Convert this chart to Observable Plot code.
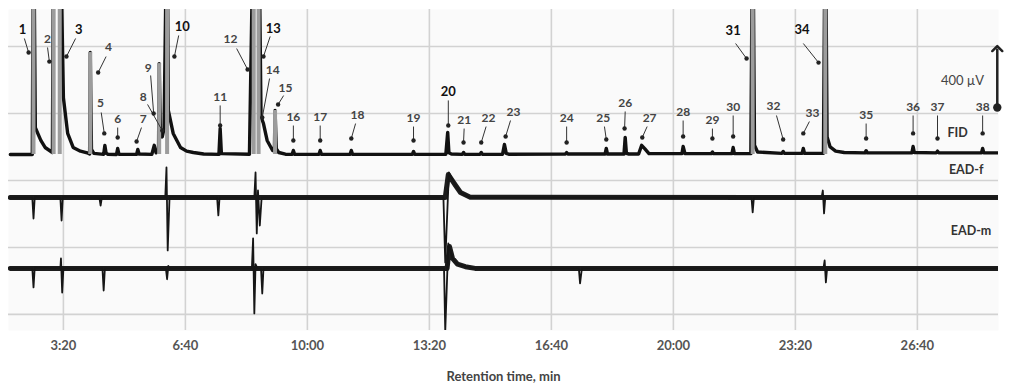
<!DOCTYPE html>
<html><head><meta charset="utf-8">
<script src="https://cdn.jsdelivr.net/npm/d3@7"></script>
<script src="https://cdn.jsdelivr.net/npm/@observablehq/plot@0.6"></script>
<style>body{margin:0;background:#fff;} svg{display:block}</style>
</head><body><div id="chart"></div>
<script>
// x: retention time in seconds; y: signal (µV-like display units, traces offset)
const tickTimes = [200, 400, 600, 800, 1000, 1200, 1400, 1600];
const gridLevels = [0, 400, 800, 1200, 1600];
const fidBase = 955;

const fidTrace = [[113,955],[149,955],[151,2500],[154,1116],[158,1081],[163,1039],[170,997],[182,967],
[184,2500],[194,2500],[200,1295],[207,1081],[216,997],[228,975],[239,965],
[243,958],[244,1564],[246,985],[250,962],
[266,956],[268,1009],[270,962],[273,956],
[287,955],[289,991],[291,957],
[320,956],[322,985],[324,958],
[345,956],[349,1010],[352,965],[356,985],[357,1498],[359,1100],[362,1060],[365,1110],[370,2500],[372,1218],[380,1081],[392,997],[402,975],[413,967],[430,958],
[455,956],[457,1110],[459,960],
[505,957],[512,2500],[520,2500],[524,1180],[528,1140],[534,1039],[543,979],[546,1000],[547,1218],[549,990],[553,967],[564,957],
[575,956],[577,979],[579,956],
[619,956],[621,979],[623,956],
[670,956],[672,979],[674,956],
[772,956],[774,973],[776,956],
[827,957],[830,1087],[832,965],[836,958],
[854,956],[856,967],[858,956],
[883,956],[885,967],[887,956],
[920,957],[923,1015],[926,962],[930,957],
[1023,958],[1025,967],[1027,958],
[1088,958],[1090,991],[1092,958],
[1119,958],[1121,1057],[1123,962],[1127,958],
[1143,958],[1148,1010],[1153,990],[1160,960],
[1214,960],[1216,1003],[1219,960],
[1262,960],[1264,970],[1266,960],
[1296,960],[1298,997],[1300,960],
[1327,960],[1330,2500],[1333,1010],[1338,970],
[1378,962],[1380,973],[1382,962],
[1411,962],[1413,991],[1415,962],
[1446,962],[1449,2500],[1452,1060],[1457,1000],[1466,975],[1480,967],
[1514,965],[1516,978],[1518,965],
[1591,965],[1593,1003],[1595,967],
[1631,965],[1633,975],[1635,965],
[1705,965],[1707,991],[1709,965],
[1733,965]];

const bigPeakTimes = [151, 184, 194, 244, 357, 370, 512, 520, 547, 1330, 1449];
const bigPeakTops  = [2500, 2500, 2500, 1564, 1498, 2500, 2500, 2500, 1218, 2500, 2500];

// EAD traces: noisy baseline band + sharp deflections
const eadFBand = [[113,698],[826,698],[831,835],[843,770],[851,728],[867,700],[1733,698]];
const eadF = [[113,698],[149,698],[151,573],[153,700],[195,698],[197,561],[199,700],[259,698],[261,650],[263,698],
[367,698],[369,878],[371,382],[374,700],[452,698],[454,591],[456,698],
[513,698],[515,848],[517,484],[519,740],[522,531],[525,698],
[823,698],[826,310],[832,848],[843,770],[851,728],[867,698],
[1328,698],[1330,609],[1332,698],[1443,698],[1445,740],[1447,603],[1449,698],[1733,698]];

const eadMBand = [[113,275],[829,275],[833,405],[838,334],[846,300],[859,285],[875,275],[1733,275]];
const eadM = [[113,275],[149,275],[151,161],[153,280],[195,275],[196,334],[198,131],[200,275],[264,275],[266,143],[268,275],
[368,275],[370,210],[372,290],[374,275],[509,275],[511,454],[513,6],[515,300],[518,275],[524,275],[526,125],[528,275],
[824,275],[826,-100],[831,424],[838,334],[846,300],[859,285],[875,275],
[1045,275],[1047,185],[1050,275],[1446,275],[1448,322],[1450,191],[1452,275],[1733,275]];

const peakLabels = ["1","2","3","4","5","6","7","8","9","10","11","12","13","14","15","16","17","18","19","20",
"21","22","23","24","25","26","27","28","29","30","31","32","33","34","35","36","37","38"];
const labelT = [133,174,225,274,261,289,331,331,339,395,457,474,544,543,564,577,621,682,774,831,857,897,938,1025,1085,1121,1161,1216,1264,1298,1298,1364,1428,1411,1516,1593,1633,1707];
const labelV = [1701,1642,1701,1594,1260,1164,1164,1295,1469,1719,1295,1642,1707,1457,1349,1176,1176,1188,1170,1331,1158,1170,1206,1170,1170,1260,1170,1206,1158,1236,1695,1242,1200,1701,1188,1236,1236,1236];
const stemT  = [136,174,220,270,262,289,328,338,343,389,457,484,539,538,561,577,621,679,774,831,857,893,933,1025,1087,1121,1157,1216,1264,1298,1302,1369,1423,1413,1516,1593,1633,1707];
const stemV  = [1648,1594,1648,1540,1206,1116,1116,1254,1427,1666,1248,1588,1660,1409,1307,1128,1128,1140,1122,1278,1110,1122,1158,1122,1122,1212,1122,1158,1110,1188,1618,1188,1152,1618,1140,1188,1188,1188];
const tipT   = [143,177,205,257,267,289,320,362,348,382,457,502,528,526,552,577,621,672,774,831,856,885,925,1025,1090,1120,1149,1216,1264,1298,1320,1380,1413,1438,1516,1593,1633,1707];
const tipV   = [1564,1510,1540,1445,1081,1057,1033,1098,1200,1540,1128,1463,1540,1176,1254,1039,1039,1051,1039,1128,1027,1027,1063,1027,1045,1110,1057,1063,1051,1063,1528,1045,1081,1504,1051,1081,1051,1081];
const boldPeaks = ["1","3","10","13","20","31","34"];

const traceNames = ["FID", "EAD-f", "EAD-m"];
const traceNameT = [1666, 1680, 1688];
const traceNameV = [1081, 860, 496];

const scaleBarT = 1731, scaleBarFrom = 1236, scaleBarTo = 1588;
const scaleBarText = "400 µV", scaleBarTextT = 1674, scaleBarTextV = 1397;
const axisTitle = "Retention time, min";

const fmt = s => `${Math.floor(s / 60)}:${String(s % 60).padStart(2, "0")}`;
const labelRows = peakLabels.map((name, i) => ({
  name, tx: labelT[i], tv: labelV[i], sx: stemT[i], sv: stemV[i], px: tipT[i], pv: tipV[i],
  bold: boldPeaks.includes(name)
}));
const bigPeaks = bigPeakTimes.map((t, i) => ({t, top: bigPeakTops[i]}));
const traceRows = traceNames.map((n, i) => ({n, t: traceNameT[i], v: traceNameV[i]}));
const X = d => d[0], Y = d => d[1];

const plot = Plot.plot({
  width: 1011, height: 387,
  marginLeft: 8, marginRight: 13, marginTop: 9, marginBottom: 57,
  x: {domain: [110, 1733]},
  y: {domain: [-96, 1821], axis: null},
  style: {fontFamily: "Lato, 'Open Sans', sans-serif", background: "#fff"},
  marks: [
    Plot.frame({fill: "#fafafa", stroke: "none"}),
    Plot.ruleY(gridLevels, {stroke: "#d2d2d2", strokeWidth: 1.6}),
    Plot.ruleX(tickTimes, {stroke: "#d2d2d2", strokeWidth: 1.6}),
    Plot.axisX(tickTimes, {tickSize: 0, tickPadding: 10, tickFormat: fmt, fontSize: 13, fontWeight: "bold", fill: "#555", label: null}),
    Plot.text([axisTitle], {frameAnchor: "bottom", dy: 50, fontSize: 13, fontWeight: "bold", fill: "#444"}),
    Plot.line(eadFBand, {x: X, y: Y, stroke: "#1c1c1c", strokeWidth: 5, clip: true}),
    Plot.line(eadF, {x: X, y: Y, stroke: "#161616", strokeWidth: 1.8, clip: true}),
    Plot.line(eadMBand, {x: X, y: Y, stroke: "#1c1c1c", strokeWidth: 5, clip: true}),
    Plot.line(eadM, {x: X, y: Y, stroke: "#161616", strokeWidth: 1.8, clip: true}),
    Plot.line(fidTrace, {x: X, y: Y, stroke: "#111", strokeWidth: 3.4, clip: true}),
    Plot.ruleX(bigPeaks, {x: "t", y1: fidBase, y2: "top", stroke: "#9c9c9c", strokeWidth: 4, clip: true}),
    Plot.link(labelRows, {x1: "sx", y1: "sv", x2: "px", y2: "pv", stroke: "#333", strokeWidth: 1}),
    Plot.dot(labelRows, {x: "px", y: "pv", r: 2.2, fill: "#222"}),
    Plot.text(labelRows.filter(d => d.bold), {x: "tx", y: "tv", text: "name", fontSize: 13, fontWeight: "bold", fill: "#111"}),
    Plot.text(labelRows.filter(d => !d.bold), {x: "tx", y: "tv", text: "name", fontSize: 12, fontWeight: "bold", fill: "#444"}),
    Plot.text(traceRows, {x: "t", y: "v", text: "n", fontSize: 12.5, fontWeight: "bold", fill: "#333"}),
    Plot.link([{t: scaleBarT, a: scaleBarFrom, b: scaleBarTo}], {x1: "t", x2: "t", y1: "a", y2: "b", stroke: "#222", strokeWidth: 2.5, markerStart: "dot", markerEnd: "arrow"}),
    Plot.text([scaleBarText], {x: scaleBarTextT, y: scaleBarTextV, fontSize: 13, fill: "#444"})
  ]
});
document.getElementById("chart").appendChild(plot);
</script>
</body></html>
